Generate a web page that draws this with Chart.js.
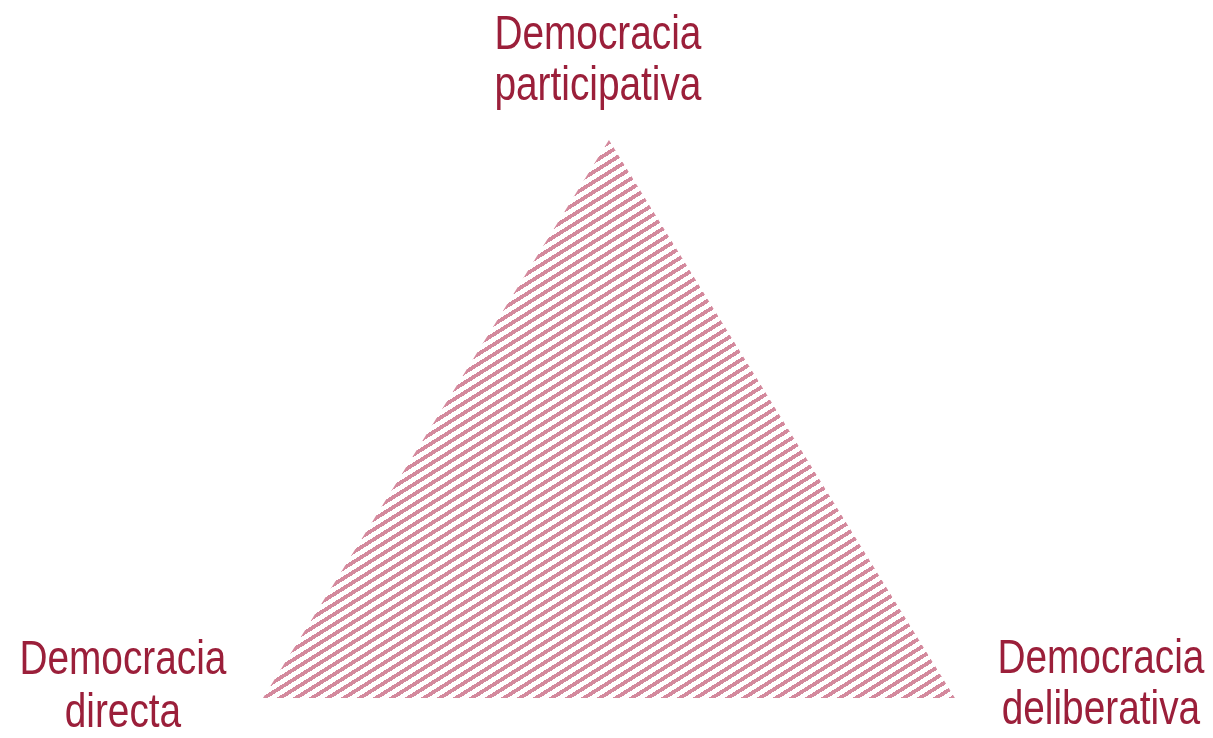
<!DOCTYPE html>
<html>
<head>
<meta charset="utf-8">
<script src="https://cdn.jsdelivr.net/npm/chart.js@4/dist/chart.umd.min.js"></script>
<style>
  html, body { margin: 0; padding: 0; background: #fff; }
  #wrap { width: 1213px; height: 738px; position: relative; }
</style>
</head>
<body>
<div id="wrap"><canvas id="tri"></canvas></div>
<script>
// vértices del triángulo (unidades abstractas)
const vertexX = [0, 0.5, 1];
const vertexY = [0, 1, 0];

// etiquetas de cada vértice (dos líneas)
const vertexLabels = [
    ['Democracia', 'directa'],
    ['Democracia', 'participativa'],
    ['Democracia', 'deliberativa']
];

const textColor = '#9b1f3a';
const hatchColor = 'rgb(212, 137, 157)';

// desplazamiento en px de cada etiqueta respecto a su vértice
const labelOffsets = [
    { dx: -140, dy: [-24, 29] },
    { dx: -11, dy: [-91, -40] },
    { dx: 146, dy: [-25, 26] }
];

// patrón rayado diagonal
function makeHatch() {
    const c = document.createElement('canvas');
    c.width = 16;
    c.height = 10;
    const g = c.getContext('2d');
    g.fillStyle = hatchColor;
    for (let y = 0; y < 10; y++) {
        for (let x = 0; x < 16; x++) {
            const v = (y + x * 10 / 16) % 10;
            if (v < 4.5) g.fillRect(x, y, 1, 1);
        }
    }
    return g.createPattern(c, 'repeat');
}

// texto estrecho tipo Arial Narrow: Liberation Sans comprimido en x
const labelPlugin = {
    id: 'vertexLabels',
    afterDatasetsDraw(chart) {
        const ctx = chart.ctx;
        const xs = chart.scales.x, ys = chart.scales.y;
        ctx.save();
        ctx.fillStyle = textColor;
        ctx.font = '48px "Liberation Sans", Arial, sans-serif';
        ctx.textAlign = 'center';
        ctx.textBaseline = 'alphabetic';
        const sx = 207 / ctx.measureText('Democracia').width;
        vertexLabels.forEach((lines, i) => {
            const px = xs.getPixelForValue(vertexX[i]);
            const py = ys.getPixelForValue(vertexY[i]);
            const off = labelOffsets[i];
            lines.forEach((t, j) => {
                ctx.save();
                ctx.translate(px + off.dx, py + off.dy[j]);
                ctx.scale(sx, 1);
                ctx.fillText(t, 0, 0);
                ctx.restore();
            });
        });
        ctx.restore();
    }
};

const ctx = document.getElementById('tri').getContext('2d');
new Chart(ctx, {
    type: 'scatter',
    data: {
        datasets: [{
            data: vertexX.map((x, i) => ({ x: x, y: vertexY[i] })),
            showLine: true,
            fill: 'origin',
            backgroundColor: makeHatch(),
            borderWidth: 0,
            borderColor: 'rgba(0,0,0,0)',
            pointRadius: 0,
            tension: 0
        }]
    },
    options: {
        responsive: true,
        maintainAspectRatio: false,
        animation: false,
        layout: { padding: 0 },
        plugins: { legend: { display: false }, tooltip: { enabled: false } },
        scales: {
            x: { type: 'linear', min: -0.380, max: 1.373, display: false },
            y: { type: 'linear', min: -0.0717, max: 1.251, display: false }
        }
    },
    plugins: [labelPlugin]
});
</script>
</body>
</html>
